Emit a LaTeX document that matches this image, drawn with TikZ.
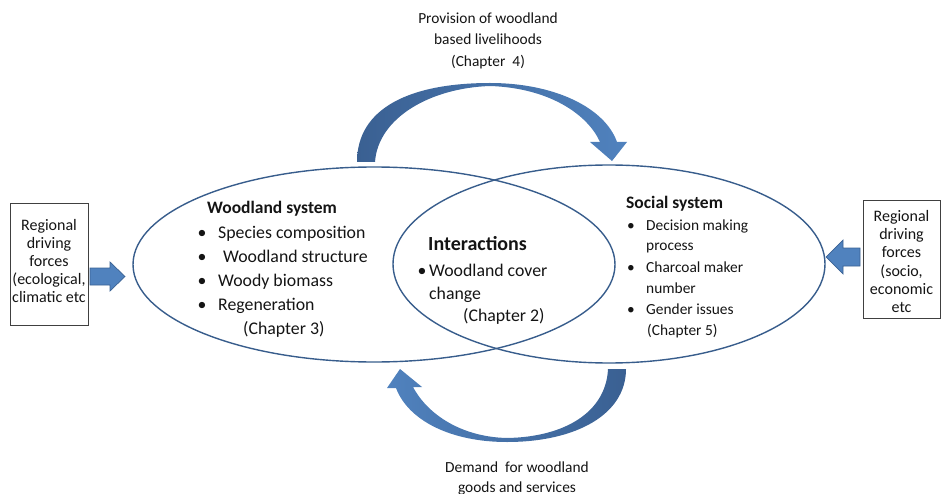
\documentclass[tikz,border=0pt]{standalone}
\usepackage{fontspec}
\setmainfont{Carlito}
\usetikzlibrary{shapes.geometric}
\definecolor{elline}{RGB}{56,93,140}
\definecolor{arrdark}{RGB}{58,96,146}
\definecolor{arrlight}{RGB}{80,130,190}
\definecolor{arredge}{RGB}{58,98,148}
\definecolor{txt}{RGB}{20,20,20}
\begin{document}
\begin{tikzpicture}[x=1pt,y=-1pt,
  lg/.style={font=\fontsize{17.8}{20}\selectfont, inner sep=0, anchor=base west, text=txt},
  lgb/.style={lg, font=\fontsize{17.5}{20}\selectfont\bfseries},
  ttl/.style={lg, font=\fontsize{20}{24}\selectfont\bfseries},
  sm/.style={font=\fontsize{15.4}{18}\selectfont, inner sep=0, anchor=base, text=txt},
  smw/.style={sm, anchor=base west},
  bx/.style={sm, font=\fontsize{16}{18}\selectfont},
  bulg/.style={lg, anchor=base},
  bsm/.style={sm},
  sysell/.style={ellipse, draw=elline, line width=1.4pt, inner sep=0},
  srcbox/.style={draw=black!75, line width=0.6pt, inner sep=0},
  blockarr/.style={fill=arrlight, draw=arredge, line width=0.7pt}
]
\useasboundingbox (0,0) rectangle (941,494);

% ellipses
\node[sysell, minimum width=482pt, minimum height=195pt] (wood) at (374,264.5) {};
\node[sysell, minimum width=432pt, minimum height=198pt] (soc) at (609,264) {};

% curved arrows
\path[left color=arrdark, right color=arrlight]
  (357,162) .. controls (357,108) and (410,83) .. (490,83)
  .. controls (555,83) and (605,108) .. (617,142)
  -- (627,142) -- (612,161) -- (590,142) -- (600,142)
  .. controls (588,115) and (550,88) .. (490,86)
  .. controls (430,88) and (378,118) .. (375,162) -- cycle;
\path[left color=arrlight, right color=arrdark]
  (626,369) .. controls (626,415) and (575,442) .. (507,442)
  .. controls (450,442) and (408,420) .. (396,388)
  -- (387,388) -- (400,369) -- (422,387) -- (413,387)
  .. controls (428,415) and (462,437) .. (507,438)
  .. controls (565,437) and (606,412) .. (608,369) -- cycle;

% source boxes
\node[srcbox, minimum width=78pt, minimum height=122pt] (lbox) at (49,264) {};
\node[srcbox, minimum width=77pt, minimum height=118pt] (rbox) at (901.5,259) {};

% block arrows
\path[blockarr] (90,268) -- (110,268) -- (110,262) -- (125,276.5) -- (110,291) -- (110,285) -- (90,285) -- cycle;
\path[blockarr] (860,248) -- (843,248) -- (843,240) -- (826,257) -- (843,274) -- (843,266) -- (860,266) -- cycle;

% left box text
\node[bx] (l1) at (49,230.5) {Regional};
\node[bx] (l2) at (49,248.5) {driving};
\node[bx] (l3) at (49,266.5) {forces};
\node[bx] (l4) at (49,284.5) {(ecological,};
\node[bx] (l5) at (49,302.5) {climatic etc};

% right box text
\node[bx] (r1) at (901.5,221.5) {Regional};
\node[bx] (r2) at (901.5,239.5) {driving};
\node[bx] (r3) at (901.5,257.5) {forces};
\node[bx] (r4) at (901.5,276.5) {(socio,};
\node[bx] (r5) at (901.5,294.5) {economic};
\node[bx] (r6) at (901.5,312.5) {etc};

% woodland system
\node[lgb] (wt) at (207,214) {Woodland system};
\node[bulg] (wb1) at (202,238) {\textbullet};
\node[lg] (w1) at (218,238) {Species composition};
\node[bulg] (wb2) at (202,262) {\textbullet};
\node[lg] (w2) at (223,262) {Woodland structure};
\node[bulg] (wb3) at (202,286) {\textbullet};
\node[lg] (w3) at (218,286) {Woody biomass};
\node[bulg] (wb4) at (202,310) {\textbullet};
\node[lg] (w4) at (218,310) {Regeneration};
\node[lg] (w5) at (243,334) {(Chapter 3)};

% interactions
\node[ttl] (it) at (428,251) {Interactions};
\node[bulg] (ib) at (422,276) {\textbullet};
\node[lg] (i1) at (429,276) {Woodland cover};
\node[lg] (i2) at (429,299) {change};
\node[lg] (i3) at (463,321) {(Chapter 2)};

% social system
\node[lgb] (st) at (626,208) {Social system};
\node[bsm] (sb1) at (631,230) {\textbullet};
\node[smw] (s1) at (646,230) {Decision making};
\node[smw] (s2) at (646,251) {process};
\node[bsm] (sb2) at (631,272) {\textbullet};
\node[smw] (s3) at (646,272) {Charcoal maker};
\node[smw] (s4) at (646,293) {number};
\node[bsm] (sb3) at (631,314) {\textbullet};
\node[smw] (s5) at (646,314) {Gender issues};
\node[smw] (s6) at (647,335) {(Chapter 5)};

% top and bottom labels
\node[sm] (t1) at (488,24) {Provision of woodland};
\node[sm] (t2) at (488,45) {based livelihoods};
\node[sm] (t3) at (488,67) {(Chapter\ \ 4)};
\node[sm] (b1) at (517,472) {Demand\ \ for woodland};
\node[sm] (b2) at (517,492) {goods and services};
\end{tikzpicture}
\end{document}
